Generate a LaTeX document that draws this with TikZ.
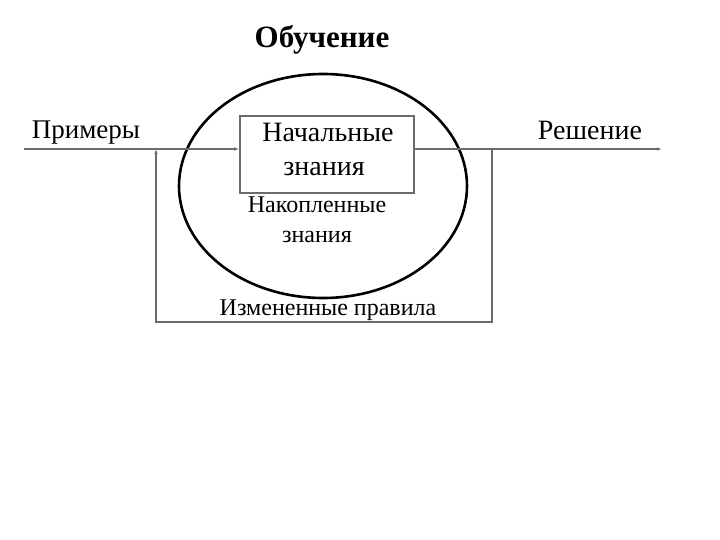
\documentclass[tikz,border=0pt]{standalone}
\usepackage{fontspec}
\setmainfont{Liberation Serif}
\usetikzlibrary{arrows.meta}

\begin{document}
\begin{tikzpicture}[x=1pt, y=-1pt,
    flow/.style={draw=gray!85!black, line width=1.6pt},
    tip/.style={-{Latex[length=5pt, width=3.5pt]}},
    lbl/.style={font=\fontsize{27}{30}\selectfont, inner sep=0pt, anchor=base},
    small/.style={font=\fontsize{24}{27}\selectfont, inner sep=0pt, anchor=base}]
  \useasboundingbox (0,0) rectangle (720,540);
  % Title
  \node[font=\bfseries\fontsize{31}{34}\selectfont, inner sep=0pt, anchor=base] (title) at (322,48) {Обучение};
  % Ellipse
  \draw[line width=2.6pt] (323,186) ellipse (144 and 112);
  % Box
  \node[draw=gray!85!black, line width=1.6pt, minimum width=174pt, minimum height=77pt, inner sep=0pt] (box) at (327,154.5) {};
  \node[lbl, font=\fontsize{28}{30}\selectfont] (start1) at (328,142) {Начальные};
  \node[lbl, font=\fontsize{28}{30}\selectfont] (start2) at (324,176) {знания};
  \node[small] (acc1) at (317,213) {Накопленные};
  \node[small] (acc2) at (317,243) {знания};
  % Labels
  \node[lbl] (examples) at (86,139) {Примеры};
  \node[lbl, font=\fontsize{28}{30}\selectfont] (solution) at (590,140) {Решение};
  \node[small] (rules) at (328,315) {Измененные правила};
  % Connectors
  \coordinate (in) at (24,149);
  \coordinate (out) at (662,149);
  \coordinate (fbup) at (156,149);
  \coordinate (fbtop) at (492,149);
  \coordinate (fbr) at (492,322);
  \coordinate (fbl) at (156,322);
  \draw[flow, tip] (in) -- (box.west |- in);
  \draw[flow, tip] (box.east |- out) -- (out);
  \draw[flow, tip] (fbtop) -- (fbr) -- (fbl) -- (fbup);
\end{tikzpicture}
\end{document}
